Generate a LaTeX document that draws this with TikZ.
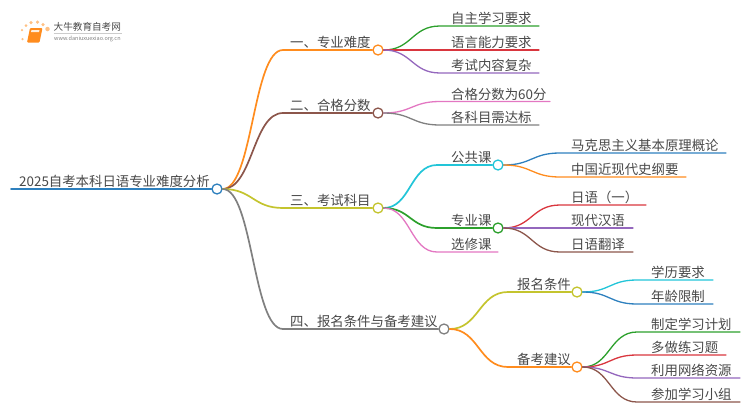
\documentclass[tikz,border=0pt]{standalone}
\usepackage{xcolor}
\usepackage{fontspec}
\setmainfont{Noto Sans CJK SC}
\usetikzlibrary{positioning,calc}
\definecolor{cblue}{HTML}{2E80BE}
\definecolor{corange}{HTML}{FF8C1E}
\definecolor{cbrown}{HTML}{8C564B}
\definecolor{colive}{HTML}{C4C42E}
\definecolor{cgray}{HTML}{808080}
\definecolor{cgreen}{HTML}{2CA02C}
\definecolor{cred}{HTML}{D9363E}
\definecolor{cpurple}{HTML}{9467BD}
\definecolor{cpink}{HTML}{E377C2}
\definecolor{ccyan}{HTML}{22C5D8}
\definecolor{ctext}{HTML}{484848}
\tikzset{
  lab/.style={font=\fontsize{13.4}{14}\selectfont,text=ctext,anchor=base west,inner sep=0pt,yshift=-1pt},
  hub/.style={circle,draw,fill=white,line width=1.3pt,minimum size=10pt,inner sep=0pt},
  wire/.style={line width=1.3pt,line cap=round},
  wirebig/.style={line width=1.7pt,line cap=round},
  sweep/.style={to path={let \p1=(\tikztostart),\p2=(\tikztotarget) in
    .. controls ({(\x1+\x2)/2},\y1) and ({(\x1+\x2)/2},\y2) .. (\tikztotarget)}},
  spark/.style={circle,fill=corange!55,inner sep=0pt}
}
\begin{document}
\begin{tikzpicture}[x=1pt,y=-1pt]
  \useasboundingbox (0,0) rectangle (750,410);
  % logo
  \node[spark,minimum size=2.5pt] (dotA) at (22.5,39) {};
  \node[spark,minimum size=2.5pt] (dotB) at (22,30) {};
  \node[spark,minimum size=3pt] (dotC) at (26,25.5) {};
  \node[spark,minimum size=3.5pt] (dotD) at (31,22.5) {};
  \node[spark,minimum size=3.5pt] (dotE) at (37.5,22) {};
  \node[spark,minimum size=3.5pt] (dotF) at (43,24.5) {};
  \node[spark,minimum size=4.5pt] (dotG) at (47.5,29) {};
  \fill[corange,rounded corners=1pt] (30,28) -- (42.5,28) -- (39.5,42.5) -- (27,42.5) -- cycle;
  \fill[white!85!corange] (31.5,30) -- (39.5,30) -- (39,32) -- (31,32) -- cycle;
  \node[font=\fontsize{9.6}{10}\selectfont,text=ctext,anchor=base west,inner sep=0pt] (logoname) at (53.5,30.5) {大牛教育自考网};
  \node[font=\fontsize{5.5}{6}\selectfont,text=cgray,anchor=base west,inner sep=0pt] (logourl) at (54,40.8) {www.daniuxuexiao.org.cn};
  \draw[black!20,line width=0.6pt] (logoname.base west)+(0,3) -- ++(68,3);

  % root
  \node[hub,draw=cblue] (root) at (217,189) {};
  \node[lab] (title) at (19,185.5) {2025自考本科日语专业难度分析};
  \coordinate (rootL) at (11,189);
  \draw[wirebig,cblue] (rootL) -- (root.west);

  % branch one
  \node[hub,draw=corange] (one) at (378,50) {};
  \node[lab] (oneT) at (290,46.5) {一、专业难度};
  \coordinate (oneA) at (283,50);
  \draw[wirebig,corange] (root.east) to[sweep] (oneA) -- (one.west);
  \coordinate (ziA) at (440,26); \coordinate (ziB) at (539,26);
  \node[lab] (ziT) at (451,22.5) {自主学习要求};
  \draw[wire,cgreen] (one.east) to[sweep] (ziA) -- (ziB);
  \coordinate (yuB) at (539,50);
  \node[lab] (yuT) at (451,46.5) {语言能力要求};
  \draw[wire,cred] (one.east) -- (yuB);
  \coordinate (neiA) at (440,73); \coordinate (neiB) at (539,73);
  \node[lab] (neiT) at (451,69.5) {考试内容复杂};
  \draw[wire,cpurple] (one.east) to[sweep] (neiA) -- (neiB);

  % branch two
  \node[hub,draw=cbrown] (two) at (378,113) {};
  \node[lab] (twoT) at (290,109.5) {二、合格分数};
  \coordinate (twoA) at (283,113);
  \draw[wirebig,cbrown] (root.east) to[sweep] (twoA) -- (two.west);
  \coordinate (fenA) at (440,101.5); \coordinate (fenB) at (550,101.5);
  \node[lab] (fenT) at (451,98) {合格分数为60分};
  \draw[wire,cpink] (two.east) to[sweep] (fenA) -- (fenB);
  \coordinate (biaoA) at (440,125); \coordinate (biaoB) at (539,125);
  \node[lab] (biaoT) at (451,121.5) {各科目需达标};
  \draw[wire,cgray] (two.east) to[sweep] (biaoA) -- (biaoB);

  % branch three
  \node[hub,draw=colive] (three) at (378,208) {};
  \node[lab] (threeT) at (290,204.5) {三、考试科目};
  \coordinate (threeA) at (283,208);
  \draw[wirebig,colive] (root.east) to[sweep] (threeA) -- (three.west);
  \node[hub,draw=ccyan] (pub) at (498,165) {};
  \node[lab] (pubT) at (451,161.5) {公共课};
  \coordinate (pubA) at (437,165);
  \draw[wirebig,ccyan] (three.east) to[sweep] (pubA) -- (pub.west);
  \node[hub,draw=cgreen] (maj) at (498,228) {};
  \node[lab] (majT) at (451,224.5) {专业课};
  \coordinate (majA) at (437,228);
  \draw[wirebig,cgreen] (three.east) to[sweep] (majA) -- (maj.west);
  \coordinate (xuanA) at (437,252); \coordinate (xuanB) at (498,252);
  \node[lab] (xuanT) at (451,248.5) {选修课};
  \draw[wire,cpink] (three.east) to[sweep] (xuanA) -- (xuanB);
  \coordinate (maA) at (560,153); \coordinate (maB) at (726,153);
  \node[lab] (maT) at (571,149.5) {马克思主义基本原理概论};
  \draw[wire,cblue] (pub.east) to[sweep] (maA) -- (maB);
  \coordinate (zhA) at (560,177); \coordinate (zhB) at (686,177);
  \node[lab] (zhT) at (571,173.5) {中国近现代史纲要};
  \draw[wire,corange] (pub.east) to[sweep] (zhA) -- (zhB);
  \coordinate (riA) at (560,205); \coordinate (riB) at (646,205);
  \node[lab] (riT) at (571,201.5) {日语（一）};
  \draw[wire,cred] (maj.east) to[sweep] (riA) -- (riB);
  \coordinate (xiB) at (633,228);
  \node[lab] (xiT) at (571,224.5) {现代汉语};
  \draw[wire,cpurple] (maj.east) -- (xiB);
  \coordinate (faA) at (560,252); \coordinate (faB) at (633,252);
  \node[lab] (faT) at (571,248.5) {日语翻译};
  \draw[wire,cbrown] (maj.east) to[sweep] (faA) -- (faB);

  % branch four
  \node[hub,draw=cgray] (four) at (444,329) {};
  \node[lab] (fourT) at (290,325.5) {四、报名条件与备考建议};
  \coordinate (fourA) at (283,329);
  \draw[wirebig,cgray] (root.east) to[sweep] (fourA) -- (four.west);
  \node[hub,draw=colive] (bao) at (577,292) {};
  \node[lab] (baoT) at (517,288.5) {报名条件};
  \coordinate (baoA) at (508,292);
  \draw[wirebig,colive] (four.east) to[sweep] (baoA) -- (bao.west);
  \node[hub,draw=corange] (bei) at (577,367) {};
  \node[lab] (beiT) at (517,363.5) {备考建议};
  \coordinate (beiA) at (508,367);
  \draw[wirebig,corange] (four.east) to[sweep] (beiA) -- (bei.west);
  \coordinate (liA) at (637,280); \coordinate (liB) at (713,280);
  \node[lab] (liT) at (651,276.5) {学历要求};
  \draw[wire,ccyan] (bao.east) to[sweep] (liA) -- (liB);
  \coordinate (nianA) at (637,304); \coordinate (nianB) at (713,304);
  \node[lab] (nianT) at (651,300.5) {年龄限制};
  \draw[wire,cblue] (bao.east) to[sweep] (nianA) -- (nianB);
  \coordinate (jiA) at (637,332); \coordinate (jiB) at (740,332);
  \node[lab] (jiT) at (651,328.5) {制定学习计划};
  \draw[wire,cgreen] (bei.east) to[sweep] (jiA) -- (jiB);
  \coordinate (duoA) at (637,355); \coordinate (duoB) at (726,355);
  \node[lab] (duoT) at (651,351.5) {多做练习题};
  \draw[wire,cred] (bei.east) to[sweep] (duoA) -- (duoB);
  \coordinate (wangA) at (637,378); \coordinate (wangB) at (740,378);
  \node[lab] (wangT) at (651,374.5) {利用网络资源};
  \draw[wire,cpurple] (bei.east) to[sweep] (wangA) -- (wangB);
  \coordinate (zuA) at (637,402); \coordinate (zuB) at (740,402);
  \node[lab] (zuT) at (651,398.5) {参加学习小组};
  \draw[wire,cbrown] (bei.east) to[sweep] (zuA) -- (zuB);
\end{tikzpicture}
\end{document}
